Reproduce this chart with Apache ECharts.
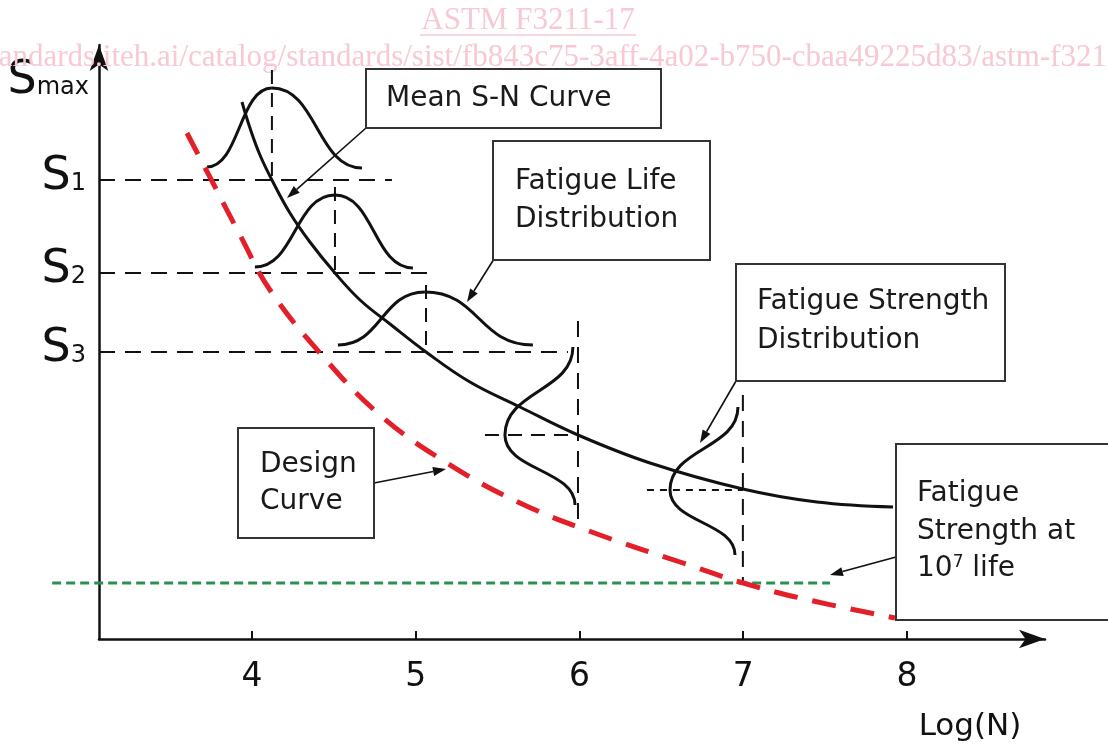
<!DOCTYPE html>
<html>
<head>
<meta charset="utf-8">
<title>S-N curve</title>
<script src="https://cdn.jsdelivr.net/npm/echarts@6/dist/echarts.min.js"></script>
<style>
html, body { margin: 0; padding: 0; background: #fff; }
#chart { width: 1108px; height: 748px; }
</style>
</head>
<body>
<div id="chart"></div>
<script>
const FONT = '"DejaVu Sans", Verdana, sans-serif';
const INK = '#111';
const PINK = '#f6c9d3';

// x: log(N), y: stress (arbitrary units, 0 at the x axis)
const logTicks = [4, 5, 6, 7, 8];
const stressLevels = [459, 366, 287];
const stressNames = ['1', '2', '3'];
const stressLineEnds = [4.855, 5.105, 5.93];

// mean S-N curve
const meanCurve = [
    [3.939, 537], [3.988, 511], [4.049, 484], [4.122, 459], [4.232, 426],
    [4.354, 397], [4.507, 366], [4.660, 339], [4.843, 315], [5.063, 287],
    [5.331, 257], [5.637, 232], [5.991, 204], [6.431, 176], [6.998, 150],
    [7.450, 137], [7.915, 132]
];

// design curve (red dashed)
const designCurve = [
    [3.603, 506], [3.762, 456], [3.927, 404], [4.110, 349], [4.415, 286],
    [4.782, 224], [5.191, 176], [5.637, 136], [6.125, 104], [6.614, 77],
    [6.980, 57], [7.347, 41], [7.927, 21]
];

// fatigue strength at 10^7 (green dotted)
const enduranceLevel = 56;
const enduranceRange = [2.78, 7.53];

// fatigue life distributions: [leftX, leftY, peakX, peakY, rightX, rightY]
const lifeBells = [
    [3.725, 472, 4.122, 551, 4.672, 471],
    [4.018, 372, 4.507, 444, 4.983, 371],
    [4.525, 294, 5.056, 347, 5.716, 294]
];
// their mean lines: [x, top, bottom]
const lifeMeans = [[4.122, 569, 459], [4.507, 452, 366], [5.063, 354, 287]];

// fatigue strength distributions: [topX, topY, peakX, peakY, bottomX, bottomY]
const strengthBells = [
    [5.960, 292, 5.545, 204, 5.973, 134],
    [6.968, 232, 6.553, 149, 6.950, 84]
];
const strengthMeans = [[5.991, 318, 114], [6.998, 244, 54]];
// horizontal marks through the strength peaks: [fromX, toX, y]
const strengthMarks = [[5.423, 5.991, 204], [6.412, 6.998, 149]];

const myChart = echarts.init(document.getElementById('chart'));

function bellItem(vertical) {
    return function (params, api) {
        const a = api.coord([api.value(0), api.value(1)]);
        const p = api.coord([api.value(2), api.value(3)]);
        const b = api.coord([api.value(4), api.value(5)]);
        const k = 0.5;
        let half1, half2;
        if (!vertical) {
            half1 = { x1: a[0], y1: a[1], cpx1: a[0] + k * (p[0] - a[0]), cpy1: a[1],
                cpx2: p[0] - k * (p[0] - a[0]), cpy2: p[1], x2: p[0], y2: p[1] };
            half2 = { x1: p[0], y1: p[1], cpx1: p[0] + k * (b[0] - p[0]), cpy1: p[1],
                cpx2: b[0] - k * (b[0] - p[0]), cpy2: b[1], x2: b[0], y2: b[1] };
        } else {
            half1 = { x1: a[0], y1: a[1], cpx1: a[0], cpy1: a[1] + k * (p[1] - a[1]),
                cpx2: p[0], cpy2: p[1] - k * (p[1] - a[1]), x2: p[0], y2: p[1] };
            half2 = { x1: p[0], y1: p[1], cpx1: p[0], cpy1: p[1] + k * (b[1] - p[1]),
                cpx2: b[0], cpy2: b[1] - k * (b[1] - p[1]), x2: b[0], y2: b[1] };
        }
        const style = { stroke: INK, lineWidth: 3, fill: null };
        return {
            type: 'group',
            children: [
                { type: 'bezierCurve', shape: half1, style: style },
                { type: 'bezierCurve', shape: half2, style: style }
            ]
        };
    };
}

function dashed(data, width, dash) {
    return {
        type: 'line',
        data: data,
        symbol: 'none',
        silent: true,
        clip: false,
        lineStyle: { color: INK, width: width, type: dash }
    };
}

// callout arrow from box to curve
function arrow(x1, y1, x2, y2) {
    const ang = Math.atan2(y2 - y1, x2 - x1);
    const len = 13, half = 4.5;
    const bx = x2 - len * Math.cos(ang), by = y2 - len * Math.sin(ang);
    return [
        { type: 'line', z: 40, shape: { x1: x1, y1: y1, x2: bx, y2: by },
          style: { stroke: INK, lineWidth: 1.6 } },
        { type: 'polygon', z: 40, shape: { points: [[x2, y2],
            [bx - half * Math.sin(ang), by + half * Math.cos(ang)],
            [bx + half * Math.sin(ang), by - half * Math.cos(ang)]] },
          style: { fill: INK } }
    ];
}

function box(x, y, w, h) {
    return { type: 'rect', z: 50, shape: { x: x, y: y, width: w, height: h },
        style: { fill: '#fff', stroke: '#333', lineWidth: 2 } };
}

function label(x, y, text, lh) {
    return { type: 'text', z: 51, x: x, y: y,
        style: { text: text, fontSize: 28, fontFamily: FONT, fill: '#1a1a1a',
            verticalAlign: 'middle', lineHeight: lh || 38 } };
}

const series = [];

// S levels
stressLevels.forEach(function (s, i) {
    series.push(dashed([[3.066, s], [stressLineEnds[i], s]], 2, [16, 10]));
});
lifeMeans.forEach(function (m) {
    series.push(dashed([[m[0], m[1]], [m[0], m[2]]], 2, [14, 9]));
});
strengthMeans.forEach(function (m) {
    series.push(dashed([[m[0], m[1]], [m[0], m[2]]], 2, [16, 10]));
});
strengthMarks.forEach(function (m, i) {
    series.push(dashed([[m[0], m[2]], [m[1], m[2]]], 2, i === 0 ? [14, 9] : [7, 6]));
});

// endurance line runs past the y axis, so draw it unclipped
series.push({
    type: 'custom',
    data: [[enduranceRange[0], enduranceLevel, enduranceRange[1]]],
    clip: false,
    silent: true,
    renderItem: function (params, api) {
        const a = api.coord([api.value(0), api.value(1)]);
        const b = api.coord([api.value(2), api.value(1)]);
        return {
            type: 'line',
            shape: { x1: a[0], y1: a[1], x2: b[0], y2: b[1] },
            style: { stroke: '#2b9150', lineWidth: 3, lineDash: [9, 5] }
        };
    }
});

series.push({
    type: 'line',
    data: designCurve,
    symbol: 'none',
    smooth: 0.4,
    clip: false,
    lineStyle: { color: '#e3202a', width: 5, type: [24, 15], cap: 'butt' }
});

series.push({
    type: 'line',
    data: meanCurve,
    symbol: 'none',
    smooth: 0.4,
    clip: false,
    lineStyle: { color: INK, width: 3 }
});

series.push({
    type: 'custom',
    data: lifeBells,
    renderItem: bellItem(false),
    encode: { x: [0, 2, 4], y: [1, 3, 5] },
    silent: true
});
series.push({
    type: 'custom',
    data: strengthBells,
    renderItem: bellItem(true),
    encode: { x: [0, 2, 4], y: [1, 3, 5] },
    silent: true
});

const graphics = [
    // watermark
    { type: 'text', z: 1, x: 528, y: 21,
      style: { text: 'ASTM F3211-17', fontSize: 31, fontFamily: '"Liberation Serif", serif',
          fill: PINK, align: 'center', verticalAlign: 'middle' } },
    { type: 'line', z: 1, shape: { x1: 420, y1: 35, x2: 636, y2: 35 },
      style: { stroke: PINK, lineWidth: 1.5 } },
    { type: 'text', z: 1, x: -22, y: 58,
      style: { text: 'standards.iteh.ai/catalog/standards/sist/fb843c75-3aff-4a02-b750-cbaa49225d83/astm-f3211-17',
          fontSize: 31, fontFamily: '"Liberation Serif", serif', fill: PINK,
          verticalAlign: 'middle' } },

    box(366, 69, 295, 59),
    label(386, 99, 'Mean S-N Curve'),
    box(493, 141, 217, 119),
    label(515, 201, 'Fatigue Life\nDistribution'),
    box(736, 264, 269, 117),
    label(757, 321.5, 'Fatigue Strength\nDistribution', 39),
    box(238, 428, 136, 110),
    label(260, 483.5, 'Design\nCurve', 37),
    box(896, 444, 230, 176),
    { type: 'text', z: 51, x: 917, y: 531.5,
      style: { text: 'Fatigue\nStrength at\n{a|10}{b|7}{a| life}', fontSize: 28, fontFamily: FONT,
          fill: '#1a1a1a', verticalAlign: 'middle', lineHeight: 37.5,
          rich: {
              a: { fontSize: 28, fontFamily: FONT, fill: '#1a1a1a', lineHeight: 37.5 },
              b: { fontSize: 17, fontFamily: FONT, fill: '#1a1a1a', lineHeight: 17,
                   verticalAlign: 'top', padding: [4, 0, 0, 0] }
          } } }
]
    .concat(arrow(366, 128, 287, 198))
    .concat(arrow(494, 259, 467, 302))
    .concat(arrow(736, 381, 700, 443))
    .concat(arrow(374, 483, 446, 469))
    .concat(arrow(896, 557, 830, 575));

const option = {
    backgroundColor: '#fff',
    animation: false,
    grid: { left: 99, right: 63, top: 45, bottom: 109, containLabel: false, outerBoundsMode: 'none' },
    xAxis: {
        type: 'value',
        min: 3.066,
        max: 8.843,
        name: 'Log(N)',
        nameLocation: 'end',
        nameGap: -75,
        nameTextStyle: { fontSize: 31, fontFamily: FONT, color: INK,
            align: 'center', verticalAlign: 'top', padding: [72, 0, 0, 0] },
        axisLine: { onZero: false, symbol: ['none', 'arrow'], symbolSize: [14, 26],
            lineStyle: { color: INK, width: 2.5 } },
        axisTick: { show: true, inside: true, length: 8, customValues: logTicks,
            lineStyle: { color: INK, width: 2 } },
        axisLabel: { customValues: logTicks, fontSize: 33, fontFamily: FONT, color: INK, margin: 22 },
        splitLine: { show: false }
    },
    yAxis: {
        type: 'value',
        min: 0,
        max: 594,
        name: '{s|S}{n|max}',
        nameLocation: 'end',
        nameGap: -59,
        nameTextStyle: {
            align: 'right', verticalAlign: 'bottom', padding: [0, 10, 0, 0],
            rich: {
                s: { fontSize: 46, fontFamily: FONT, color: INK, lineHeight: 46, verticalAlign: 'bottom' },
                n: { fontSize: 24, fontFamily: FONT, color: INK, lineHeight: 24, verticalAlign: 'bottom',
                     padding: [0, 0, 4, 0] }
            }
        },
        axisLine: { show: true, onZero: false, symbol: ['none', 'arrow'], symbolSize: [14, 26],
            lineStyle: { color: INK, width: 2.5 } },
        axisTick: { show: false },
        axisLabel: {
            customValues: stressLevels,
            margin: 13,
            formatter: function (v) {
                return '{s|S}{n|' + stressNames[stressLevels.indexOf(v)] + '}';
            },
            padding: [0, 0, 6, 0],
            rich: {
                s: { fontSize: 46, fontFamily: FONT, color: INK, lineHeight: 46, verticalAlign: 'bottom' },
                n: { fontSize: 24, fontFamily: FONT, color: INK, lineHeight: 24, verticalAlign: 'bottom',
                     padding: [0, 0, 4, 0] }
            }
        },
        splitLine: { show: false }
    },
    graphic: graphics,
    series: series
};

myChart.setOption(option);

window.addEventListener('resize', () => {
    myChart.resize();
});
</script>
</body>
</html>
